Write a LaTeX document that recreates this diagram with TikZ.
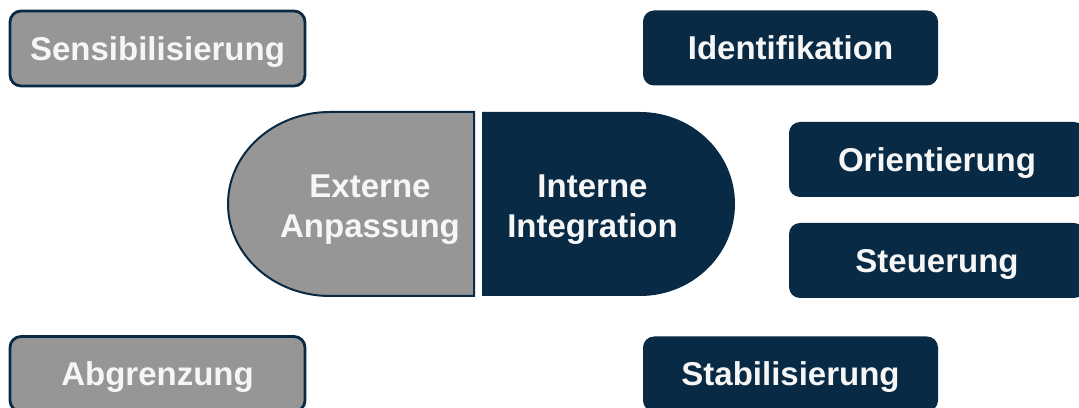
\documentclass[tikz,border=0pt]{standalone}
\usepackage{fontspec}
\setmainfont{Liberation Sans}
\usepackage{xcolor}
\usetikzlibrary{positioning}
\definecolor{navy}{RGB}{8,42,68}
\definecolor{midgray}{RGB}{150,150,150}
\definecolor{offwhite}{RGB}{246,246,246}

\begin{document}
\begin{tikzpicture}[
    x=1pt, y=1pt,
    box/.style={rectangle, rounded corners=11pt, minimum width=295pt, minimum height=75pt, align=center, text height=23.6pt, text depth=0pt, font=\fontsize{33}{40}\selectfont\bfseries, text=offwhite},
    graybox/.style={box, fill=midgray, draw=navy, line width=2.8pt},
    navybox/.style={box, fill=navy},
    label/.style={align=center, font=\fontsize{33}{40}\selectfont\bfseries, text=offwhite}
]
\clip (0,0) rectangle (1079,407);

% Outer boxes
\node[graybox] (sens) at (157.5,358.5) {Sensibilisierung};
\node[graybox] (abgr) at (157.5,33) {Abgrenzung};
\node[navybox] (ident) at (790.5,359) {Identifikation};
\node[navybox] (stab) at (790.5,33) {Stabilisierung};
\node[navybox, minimum width=296pt] (orient) at (937,247.5) {Orientierung};
\node[navybox, minimum width=296pt] (steuer) at (937,146.5) {Steuerung};

% Central halves
\fill[midgray, draw=navy, line width=2pt] (474,295) -- (330,295)
    arc[start angle=90, end angle=270, x radius=102, y radius=92] -- (474,111) -- cycle;
\fill[navy] (482,295) -- (640,295)
    arc[start angle=90, end angle=-90, x radius=95, y radius=92] -- (482,111) -- cycle;

\node[label] (extern) at (370,197) {Externe\\Anpassung};
\node[label] (intern) at (592.5,197) {Interne\\Integration};

\end{tikzpicture}
\end{document}
